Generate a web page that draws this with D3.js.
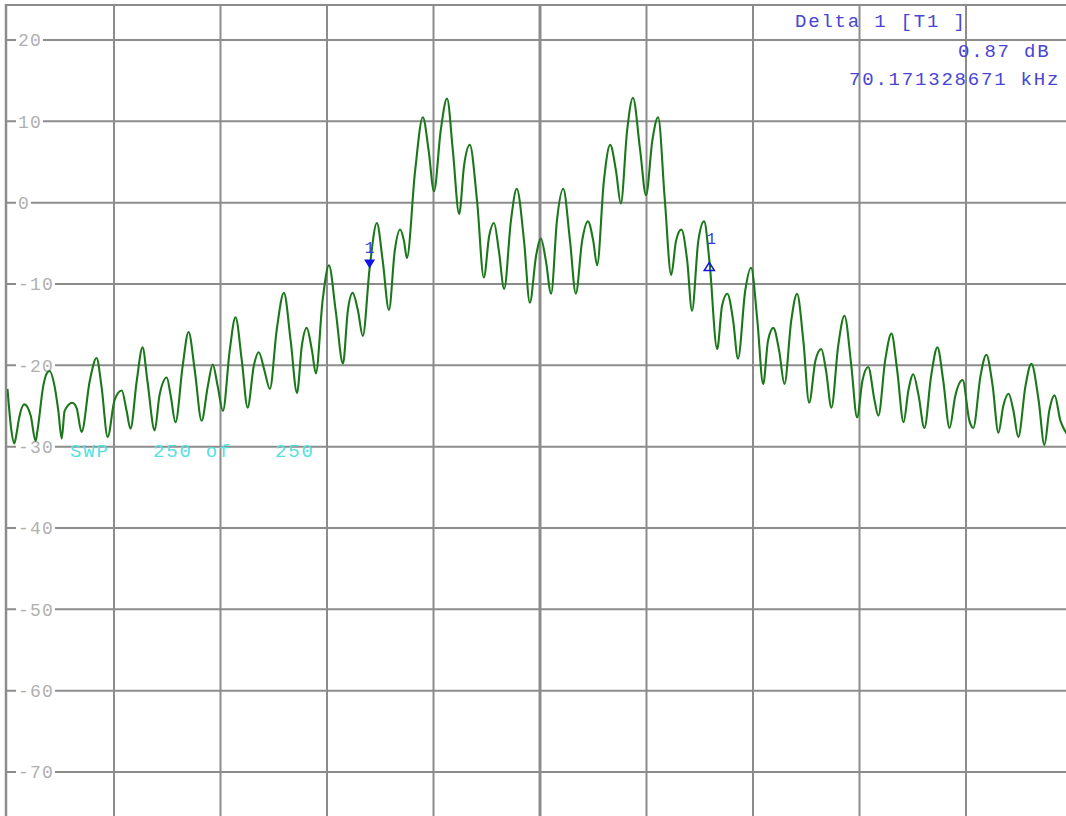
<!DOCTYPE html>
<html>
<head>
<meta charset="utf-8">
<script src="https://cdn.jsdelivr.net/npm/d3@7"></script>
<style>
  html, body { margin: 0; padding: 0; background: #fff; overflow: hidden; }
  svg { display: block; }
</style>
</head>
<body>
<svg id="chart" width="1066" height="816"></svg>
<script>
// Trace: frequency offset from centre (kHz) and level (dB)
const freqKHz = [
  -110.0,-109.2,-108.6,-108.1,-107.7,-106.5,-105.2,-104.2,-103.8,-102.6,
  -101.9,-101.3,-100.3,-99.5,-98.8,-98.2,-96.6,-95.7,-94.7,-93.0,
  -91.6,-90.6,-89.3,-87.9,-86.4,-85.4,-84.6,-83.3,-82.1,-81.1,
  -79.6,-78.6,-77.1,-76.3,-75.3,-73.8,-72.6,-71.3,-69.9,-68.6,
  -67.6,-66.6,-65.5,-64.1,-62.9,-61.6,-60.4,-59.1,-58.1,-56.9,
  -55.8,-54.4,-52.9,-51.5,-50.2,-49.2,-48.2,-47.1,-46.3,-44.9,
  -43.6,-42.2,-40.7,-39.7,-38.7,-37.6,-36.6,-35.2,-33.7,-32.5,
  -31.2,-30.0,-28.9,-28.1,-27.5,-25.8,-24.2,-23.0,-21.9,-20.5,
  -19.2,-18.0,-16.7,-15.7,-14.5,-13.0,-11.6,-10.5,-9.5,-8.5,
  -7.4,-6.0,-4.8,-3.3,-2.1,-0.8,0.2,1.2,2.3,3.5,
  4.8,6.2,7.4,8.7,9.9,11.0,11.8,13.2,14.5,15.7,
  16.7,18.0,19.2,20.7,21.9,23.2,24.4,25.8,27.1,28.1,
  29.2,30.4,31.4,32.7,33.9,35.0,36.6,37.6,38.7,39.9,
  40.9,42.4,43.6,44.9,46.1,47.1,48.2,49.4,50.5,51.9,
  53.1,54.4,55.6,56.9,58.1,59.1,60.2,61.6,62.9,64.3,
  65.5,66.6,67.8,69.1,69.9,71.3,72.6,73.8,75.1,76.1,
  77.1,78.2,79.4,80.8,82.1,83.3,84.6,85.8,87.3,88.7,
  89.5,91.0,92.2,93.5,94.7,95.7,96.8,97.8,98.8,100.3,
  101.5,103.0,104.2,105.2,106.3,107.5,108.8
];
const levelDb = [
  -22.9,-28.0,-29.6,-28.3,-26.8,-24.8,-26.2,-29.3,-28.0,-22.5,
  -21.0,-20.7,-22.5,-25.6,-29.0,-25.6,-24.6,-25.3,-28.2,-21.9,
  -19.1,-22.5,-28.8,-24.3,-23.1,-25.6,-27.8,-21.9,-17.8,-21.9,
  -28.0,-23.7,-21.5,-23.7,-27.0,-20.0,-15.9,-20.7,-26.8,-22.5,
  -19.9,-22.5,-25.6,-18.2,-14.1,-19.4,-25.2,-20.0,-18.4,-20.7,
  -22.9,-15.7,-11.1,-17.0,-23.4,-17.6,-15.4,-18.2,-21.0,-12.0,
  -7.7,-13.3,-19.8,-13.3,-11.1,-13.3,-16.4,-8.1,-2.5,-7.1,
  -13.2,-5.9,-3.3,-4.7,-6.8,3.9,10.5,6.4,1.4,8.9,
  12.8,6.4,-1.4,4.5,7.1,0.2,-9.2,-4.1,-2.5,-5.9,
  -10.6,-2.2,1.7,-4.7,-12.3,-6.5,-4.4,-7.1,-11.2,-2.2,
  1.7,-4.7,-11.2,-4.7,-2.3,-4.7,-7.7,2.7,7.1,3.9,
  -0.1,8.9,12.9,6.4,0.9,7.6,10.5,0.2,-8.9,-4.7,
  -3.3,-7.1,-13.3,-4.7,-2.3,-7.2,-18.0,-12.7,-11.2,-14.5,
  -19.2,-10.8,-8.0,-14.5,-22.3,-17.0,-15.4,-18.2,-22.3,-14.5,
  -11.2,-17.0,-24.6,-19.4,-18.0,-20.7,-25.2,-17.6,-13.9,-20.0,
  -26.4,-21.9,-20.2,-24.3,-26.2,-19.4,-16.1,-20.7,-27.0,-23.1,
  -21.1,-23.7,-27.7,-21.3,-17.8,-21.9,-27.7,-23.7,-21.8,-26.8,
  -27.7,-21.3,-18.7,-22.5,-28.3,-25.0,-23.5,-25.6,-28.8,-22.5,
  -19.8,-24.3,-29.8,-25.6,-23.7,-26.8,-28.4
];

// Grid divisions
const levelTicks = [20, 10, 0, -10, -20, -30, -40, -50, -60, -70];
const freqTicks = [-88, -66, -44, -22, 0, 22, 44, 66, 88];

// Marker 1 and delta marker readout
const marker1Freq = -35.2;
const marker1Level = -8.1;
const deltaFreqKHz = 70.171328671;
const deltaLevelDb = 0.87;
const readoutTitle = "Delta 1 [T1 ]";
const sweepLabel = ["SWP", "250 of", "250"];

const W = 1066, H = 816;
const svg = d3.select("#chart");

const x = d3.scaleLinear().domain([-110, 110]).range([7.5, 1072.5]);
const y = d3.scaleLinear().domain([-75.5, 24.3]).range([816.7, 5]);

const gridColor = "#8c8c8c";
const mono = "'Liberation Mono', 'Courier New', monospace";

// vertical grid
svg.append("g").selectAll("line").data(freqTicks).join("line")
  .attr("x1", d => x(d)).attr("x2", d => x(d))
  .attr("y1", y(24.3)).attr("y2", H)
  .attr("stroke", gridColor)
  .attr("stroke-width", d => d === 0 ? 3 : 2);

// horizontal grid
svg.append("g").selectAll("line").data(levelTicks).join("line")
  .attr("x1", 6).attr("x2", W)
  .attr("y1", d => y(d)).attr("y2", d => y(d))
  .attr("stroke", gridColor).attr("stroke-width", 2);

// frame (left and top edges)
svg.append("line").attr("x1", 6).attr("x2", 6).attr("y1", 4).attr("y2", H)
  .attr("stroke", gridColor).attr("stroke-width", 2.5);
svg.append("line").attr("x1", 5).attr("x2", W).attr("y1", y(24.3)).attr("y2", y(24.3))
  .attr("stroke", gridColor).attr("stroke-width", 2);

// level labels on the grid lines
const lab = svg.append("g");
levelTicks.forEach(v => {
  const g = lab.append("g");
  const bg = g.append("rect").attr("fill", "#fff");
  const t = g.append("text")
    .attr("x", 18).attr("y", y(v) + 6.5)
    .attr("font-family", mono).attr("font-size", 18)
    .attr("letter-spacing", 1.2)
    .attr("fill", "#b0b0b0")
    .text(String(v));
  const w = t.node().getComputedTextLength();
  bg.attr("x", 16).attr("y", y(v) - 3).attr("width", w + 3).attr("height", 6);
});

// trace
svg.append("defs").append("clipPath").attr("id", "plotClip")
  .append("rect").attr("x", 7).attr("y", 6).attr("width", W - 7).attr("height", H - 6);

const pts = freqKHz.map((f, i) => [f, levelDb[i]]);
const line = d3.line().x(d => x(d[0])).y(d => y(d[1])).curve(d3.curveMonotoneX);
svg.append("path")
  .attr("clip-path", "url(#plotClip)")
  .attr("d", line(pts))
  .attr("fill", "none")
  .attr("stroke", "#1a781a")
  .attr("stroke-width", 2.1)
  .attr("stroke-linejoin", "round");

// marker 1 (filled, pointing down onto the trace)
const m1x = x(marker1Freq), m1y = y(marker1Level);
svg.append("path")
  .attr("d", `M${m1x - 5.5},${m1y - 9}L${m1x + 5.5},${m1y - 9}L${m1x},${m1y}Z`)
  .attr("fill", "#1414e6");
svg.append("text").attr("x", m1x).attr("y", m1y - 16)
  .attr("text-anchor", "middle")
  .attr("font-family", mono).attr("font-size", 16)
  .attr("fill", "#3a3ad6").text("1");

// delta marker (open, pointing up)
const d1x = x(marker1Freq + deltaFreqKHz), d1y = y(marker1Level + deltaLevelDb);
svg.append("path")
  .attr("d", `M${d1x},${d1y + 1}L${d1x + 5},${d1y + 9}L${d1x - 5},${d1y + 9}Z`)
  .attr("fill", "none").attr("stroke", "#1414e6").attr("stroke-width", 1.6);
svg.append("text").attr("x", d1x + 2).attr("y", d1y - 17)
  .attr("text-anchor", "middle")
  .attr("font-family", mono).attr("font-size", 16)
  .attr("fill", "#3a3ad6").text("1");

// delta readout
const ro = svg.append("g")
  .attr("font-family", mono).attr("font-size", 19)
  .attr("letter-spacing", 1.8).attr("fill", "#4646d2");
ro.append("text").attr("x", 795).attr("y", 27).text(readoutTitle);
ro.append("text").attr("x", 958).attr("y", 57).text(deltaLevelDb.toFixed(2) + " dB");
ro.append("text").attr("x", 849).attr("y", 85).text(deltaFreqKHz.toFixed(9) + " kHz");

// sweep counter
const sw = svg.append("g")
  .attr("font-family", mono).attr("font-size", 19)
  .attr("letter-spacing", 1.8).attr("fill", "#56e0e0");
[70, 153, 275].forEach((px, i) => {
  sw.append("text").attr("x", px).attr("y", 457).text(sweepLabel[i]);
});
</script>
</body>
</html>
